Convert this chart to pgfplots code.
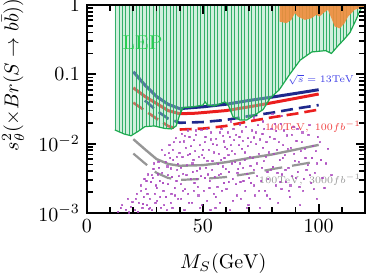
\documentclass[border=0pt]{standalone}
\usepackage{pgfplots}
\pgfplotsset{compat=1.18}
\usetikzlibrary{patterns.meta}
\definecolor{cblue}{RGB}{30,40,140}
\definecolor{cred}{RGB}{235,30,30}
\definecolor{cgray}{RGB}{150,150,150}
\definecolor{lepfill}{RGB}{150,220,180}
\definecolor{lepline}{RGB}{50,175,105}
\definecolor{lepedge}{RGB}{30,170,80}
\definecolor{lepText}{RGB}{40,210,80}
\definecolor{corange}{RGB}{240,140,60}
\definecolor{cpurple}{RGB}{170,70,190}
\begin{document}
\begin{tikzpicture}
\begin{axis}[
  scale only axis, width=139pt, height=104pt, axis on top,
  xmin=0, xmax=120, ymin=1e-3, ymax=1, ymode=log,
  xtick={0,50,100}, minor xtick={10,20,30,40,60,70,80,90,110},
  ytick={0.001,0.01,0.1,1}, yticklabels={$10^{-3}$,$10^{-2}$,$0.1$,$1$},
  minor ytick={0.002,0.003,0.004,0.005,0.006,0.007,0.008,0.009,0.02,0.03,0.04,0.05,0.06,0.07,0.08,0.09,0.2,0.3,0.4,0.5,0.6,0.7,0.8,0.9},
  tick align=inside, major tick length=4.5pt, minor tick length=3pt,
  every tick/.style={black, line width=0.9pt},
  axis line style={line width=1.2pt},
  xlabel={$M_S(\mathrm{GeV})$},
  ylabel={$s_\theta^2(\times Br(S\to b\bar b))$},
  xlabel style={at={(rel axis cs:0.49,0)}, anchor=center, yshift=-25pt},
  ylabel style={at={(rel axis cs:0,0.663)}, anchor=center, yshift=37pt},
]
\coordinate (ll) at (rel axis cs:0,0);
\coordinate (ur) at (rel axis cs:1,1);
% scatter points
\addplot[only marks, mark=square*, mark size=0.3pt, color=cpurple, mark options={draw=none}, opacity=0.75] coordinates {
(13.5,0.00105)(15.2,0.0013)(16.8,0.00112)(17.5,0.0016)(18.9,0.00124)(19.6,0.00143)(14.6,0.00118)
(20.8,0.0011)(21.5,0.0019)(22.3,0.0014)(23.1,0.0025)(23.9,0.0012)(24.5,0.0017)(24.8,0.0031)(22.0,0.00105)
(25.3,0.0022)(25.9,0.0013)(26.4,0.0036)(27.0,0.0016)(27.6,0.0028)(28.1,0.0011)(28.7,0.0043)(29.2,0.0019)(29.8,0.0025)(26.8,0.00115)(28.4,0.0032)
(30.3,0.0015)(30.8,0.0055)(31.4,0.0029)(31.9,0.0012)(32.5,0.0038)(33.0,0.0021)(33.6,0.0068)(34.1,0.0017)(34.7,0.0047)(35.0,0.0026)(32.2,0.0082)(30.6,0.0036)(34.4,0.0011)
(35.6,0.0095)(36.1,0.0014)(36.7,0.0033)(37.2,0.0058)(37.8,0.0023)(38.3,0.012)(38.9,0.0042)(39.4,0.0016)(39.9,0.0074)(36.4,0.0019)(37.5,0.0105)(38.6,0.0029)(39.2,0.0051)(35.9,0.0062)
(40.4,0.0026)(40.9,0.014)(41.5,0.0037)(42.0,0.0011)(42.6,0.0088)(43.1,0.0049)(43.7,0.0019)(44.2,0.0125)(44.8,0.0031)(41.2,0.0064)(42.3,0.0022)(43.4,0.0155)(44.5,0.0071)(40.7,0.0016)(41.8,0.0108)
(45.3,0.0014)(45.9,0.0059)(46.4,0.0027)(47.0,0.0135)(47.5,0.0041)(48.1,0.0018)(48.6,0.0095)(49.2,0.0034)(49.7,0.0068)(46.2,0.0112)(47.8,0.0024)(48.9,0.0012)(46.7,0.0078)(49.4,0.016)(45.6,0.0039)
(50.3,0.0021)(50.8,0.0105)(51.4,0.0045)(51.9,0.0015)(52.5,0.0082)(53.0,0.0029)(53.6,0.0145)(54.1,0.0056)(54.7,0.0019)(52.2,0.0036)(51.1,0.0125)(53.3,0.0011)(54.4,0.0098)(50.6,0.0063)
(55.2,0.0033)(55.8,0.0118)(56.3,0.0024)(56.9,0.0072)(57.4,0.0014)(58.0,0.0165)(58.5,0.0047)(59.1,0.0027)(59.6,0.0089)(56.6,0.0051)(57.7,0.0037)(58.8,0.0131)(55.5,0.0017)(59.3,0.0062)
(60.2,0.0022)(60.7,0.0145)(61.3,0.0039)(61.8,0.0011)(62.4,0.0078)(62.9,0.0031)(63.5,0.0112)(64.0,0.0054)(64.6,0.0018)(61.0,0.0068)(63.2,0.0165)(64.3,0.0026)(62.1,0.0095)(62.0,0.021)
(65.3,0.0043)(65.8,0.0125)(66.4,0.0016)(66.9,0.0085)(67.5,0.0029)(68.0,0.0058)(68.6,0.0175)(69.1,0.0037)(69.7,0.0013)(66.1,0.0052)(67.2,0.011)(68.3,0.0021)(69.4,0.0092)(66.0,0.019)
(70.2,0.0064)(70.8,0.0027)(71.3,0.0155)(71.9,0.0042)(72.4,0.0018)(73.0,0.0098)(73.5,0.0034)(74.1,0.0072)(74.6,0.0012)(72.1,0.0123)(73.8,0.0185)(70.5,0.0048)(72.0,0.024)
(75.2,0.0029)(75.7,0.0138)(76.3,0.0056)(76.8,0.0021)(77.4,0.0105)(77.9,0.0039)(78.5,0.0075)(79.0,0.0016)(79.6,0.0165)(76.0,0.0088)(78.2,0.0031)(76.0,0.021)
(80.3,0.0046)(80.9,0.0118)(81.4,0.0025)(82.0,0.0082)(82.5,0.0014)(83.1,0.0058)(83.6,0.0195)(84.2,0.0036)(84.7,0.0095)(81.7,0.0152)(83.9,0.0022)(80.0,0.027)(84.0,0.025)
(85.3,0.0068)(85.8,0.0028)(86.4,0.0132)(86.9,0.0045)(87.5,0.0017)(88.0,0.0088)(88.6,0.0034)(89.1,0.0175)(89.7,0.0057)(87.2,0.0021)
(90.4,0.0109)(91.0,0.0039)(91.7,0.0024)(92.3,0.0078)(93.0,0.0145)(93.6,0.0031)(94.3,0.0062)(92.0,0.0013)
(95.2,0.0049)(96.0,0.0185)(96.8,0.0027)(97.5,0.0092)(98.3,0.0038)(99.1,0.0016)(99.6,0.0125)
(101.0,0.0058)(102.5,0.0023)(104.0,0.0085)(105.5,0.0035)
(18.2,0.00102)(21.1,0.0016)(23.4,0.0021)(24.2,0.00135)(25.6,0.0029)(26.1,0.0019)(27.3,0.0012)(27.9,0.0035)(29.5,0.0014)(29.0,0.0052)
(30.1,0.0023)(31.1,0.0045)(31.6,0.0017)(32.8,0.0027)(33.3,0.0013)(33.9,0.0055)(34.9,0.0035)(35.3,0.0073)(36.2,0.0044)(36.9,0.0012)
(37.0,0.0082)(38.0,0.0018)(38.8,0.0065)(39.6,0.0034)(40.1,0.0105)(40.6,0.0045)(41.4,0.0021)(42.2,0.013)(42.9,0.0035)(43.5,0.0068)
(44.0,0.0014)(44.9,0.0092)(45.5,0.0052)(46.0,0.0021)(46.9,0.0155)(47.3,0.0031)(48.3,0.0065)(48.8,0.0044)(49.5,0.0013)(50.1,0.0082)
(50.9,0.0032)(51.6,0.0165)(52.0,0.0057)(52.8,0.0023)(53.4,0.0115)(54.0,0.0042)(54.9,0.0075)(55.4,0.0012)(56.0,0.0095)(56.8,0.0035)
(57.2,0.0145)(57.9,0.0058)(58.3,0.0021)(59.0,0.0108)(59.8,0.0043)(60.5,0.0085)(61.1,0.0028)(61.6,0.0125)(62.6,0.0052)(63.0,0.0015)
(63.8,0.0072)(64.4,0.0135)(64.9,0.0038)(65.6,0.0095)(66.2,0.0028)(66.7,0.015)(67.4,0.0045)(68.2,0.0075)(68.9,0.0012)(69.5,0.012)
(70.0,0.0032)(70.7,0.0105)(71.6,0.0062)(72.2,0.0025)(72.8,0.0145)(73.3,0.0052)(74.3,0.0021)(74.8,0.0115)(75.5,0.0045)(76.5,0.0165)
(77.1,0.0065)(77.7,0.0018)(78.8,0.0125)(79.3,0.0042)(80.6,0.0072)(81.2,0.0195)(82.2,0.0038)(82.8,0.0105)(83.4,0.0028)(84.4,0.0062)
(85.0,0.0155)(85.6,0.0042)(86.6,0.0085)(87.8,0.0025)(88.3,0.0135)(89.4,0.0072)(90.1,0.0032)(90.8,0.0165)(91.4,0.0055)(92.7,0.0105)
(93.3,0.0021)(94.0,0.0085)(94.7,0.0042)(95.6,0.0135)(96.3,0.0035)(97.1,0.0062)(97.9,0.0022)(98.7,0.0078)(99.4,0.0052)(100.5,0.0105)
(101.6,0.0032)(103.2,0.0052)
};
% gray
\addplot[cgray, line width=1.2pt] coordinates {(20,0.0116)(25,0.0083)(30,0.006)(35,0.0051)(40,0.0048)(50,0.0049)(60,0.0054)(70,0.0062)(80,0.007)(90,0.0082)(100,0.0096)};
\addplot[cgray, line width=1.1pt, dash pattern=on 9pt off 5pt] coordinates {(20,0.0072)(25,0.0052)(30,0.0038)(35,0.0032)(40,0.003)(50,0.0031)(60,0.0033)(70,0.0037)(80,0.0043)(90,0.0049)(100,0.0056)};
% red
\addplot[cred, line width=1.5pt] coordinates {(20,0.064)(25,0.048)(30,0.038)(35,0.03)(40,0.027)(47,0.0275)(60,0.030)(70,0.034)(80,0.039)(90,0.045)(100,0.052)};
\addplot[cred, line width=1.3pt, dash pattern=on 6pt off 3pt] coordinates {(20,0.039)(25,0.03)(30,0.023)(35,0.018)(40,0.016)(50,0.0165)(60,0.018)(70,0.021)(80,0.024)(90,0.027)(100,0.031)};
% blue
\addplot[cblue, line width=1.5pt] coordinates {(20,0.109)(25,0.07)(30,0.048)(35,0.037)(40,0.032)(45,0.033)(50,0.034)(60,0.037)(70,0.042)(80,0.047)(90,0.053)(100,0.060)};
\addplot[cblue, line width=1.3pt, dash pattern=on 6pt off 3pt] coordinates {(25,0.042)(30,0.030)(35,0.023)(40,0.020)(50,0.0205)(60,0.022)(70,0.025)(80,0.028)(90,0.032)(100,0.036)};
% LEP region
\addplot[fill=lepfill, fill opacity=0.45, draw=none] coordinates {(12,1)(12,0.0158)(16,0.0138)(19,0.013)(22,0.015)(25,0.0176)(29,0.018)(33.5,0.0166)(36.5,0.0163)(38.5,0.018)(40,0.026)(41.5,0.033)(46,0.034)(50,0.036)(51,0.040)(52,0.036)(55,0.035)(59.5,0.040)(61,0.036)(63,0.0245)(66,0.022)(69,0.022)(72.5,0.026)(76,0.031)(79,0.045)(83,0.06)(87.5,0.1)(92,0.16)(97,0.21)(103,0.22)(105.5,0.2)(108,0.25)(111,0.32)(113.5,0.4)(116,0.6)(118,0.85)(119.5,1)} -- cycle;
\addplot[pattern={Lines[angle=90,distance=1.7pt,line width=0.5pt]}, pattern color=lepline, draw=none] coordinates {(12,1)(12,0.0158)(16,0.0138)(19,0.013)(22,0.015)(25,0.0176)(29,0.018)(33.5,0.0166)(36.5,0.0163)(38.5,0.018)(40,0.026)(41.5,0.033)(46,0.034)(50,0.036)(51,0.040)(52,0.036)(55,0.035)(59.5,0.040)(61,0.036)(63,0.0245)(66,0.022)(69,0.022)(72.5,0.026)(76,0.031)(79,0.045)(83,0.06)(87.5,0.1)(92,0.16)(97,0.21)(103,0.22)(105.5,0.2)(108,0.25)(111,0.32)(113.5,0.4)(116,0.6)(118,0.85)(119.5,1)} -- cycle;
\addplot[lepedge, line width=0.6pt] coordinates {(12,0.0158)(16,0.0138)(19,0.013)(22,0.015)(25,0.0176)(29,0.018)(33.5,0.0166)(36.5,0.0163)(38.5,0.018)(40,0.026)(41.5,0.033)(46,0.034)(50,0.036)(51,0.040)(52,0.036)(55,0.035)(59.5,0.040)(61,0.036)(63,0.0245)(66,0.022)(69,0.022)(72.5,0.026)(76,0.031)(79,0.045)(83,0.06)(87.5,0.1)(92,0.16)(97,0.21)(103,0.22)(105.5,0.2)(108,0.25)(111,0.32)(113.5,0.4)(116,0.6)(118,0.85)(119.5,1)};
% orange region
\addplot[fill=corange, fill opacity=0.9, draw=none] coordinates {(83.2,1)(83.2,0.575)(86.1,0.547)(88.2,0.61)(89.7,0.76)(91.1,0.68)(94,0.61)(96.9,0.645)(99,0.72)(100.4,0.68)(101.9,0.76)(104,0.85)(105.5,0.645)(106.9,0.49)(109.1,0.46)(111.2,0.547)(112.7,0.68)(114.1,0.76)(115.5,0.85)(117.7,0.9)(120,0.93)(120,1)} -- cycle;
% texts
\node[text=lepText, font=\normalsize] at (axis cs:24,0.29) {LEP};
\node[text={rgb,255:red,60;green,60;blue,230}, font=\fontsize{6}{7}\selectfont] at (axis cs:101,0.083) {\scalebox{0.82}{$\sqrt{s}=13\mathrm{TeV}$}};
\node[text={rgb,255:red,240;green,60;blue,60}, font=\fontsize{6}{7}\selectfont] at (axis cs:97.5,0.0175) {\scalebox{0.82}{$100\mathrm{TeV},\ 100fb^{-1}$}};
\node[text=cgray, font=\fontsize{6}{7}\selectfont] at (axis cs:96.3,0.003) {\scalebox{0.82}{$100\mathrm{TeV},\ 3000fb^{-1}$}};
\end{axis}
\pgfresetboundingbox
\path[use as bounding box] ([xshift=-43.5pt,yshift=-32.5pt]ll) rectangle ([xshift=4.5pt,yshift=2.5pt]ur);
\end{tikzpicture}
\end{document}
